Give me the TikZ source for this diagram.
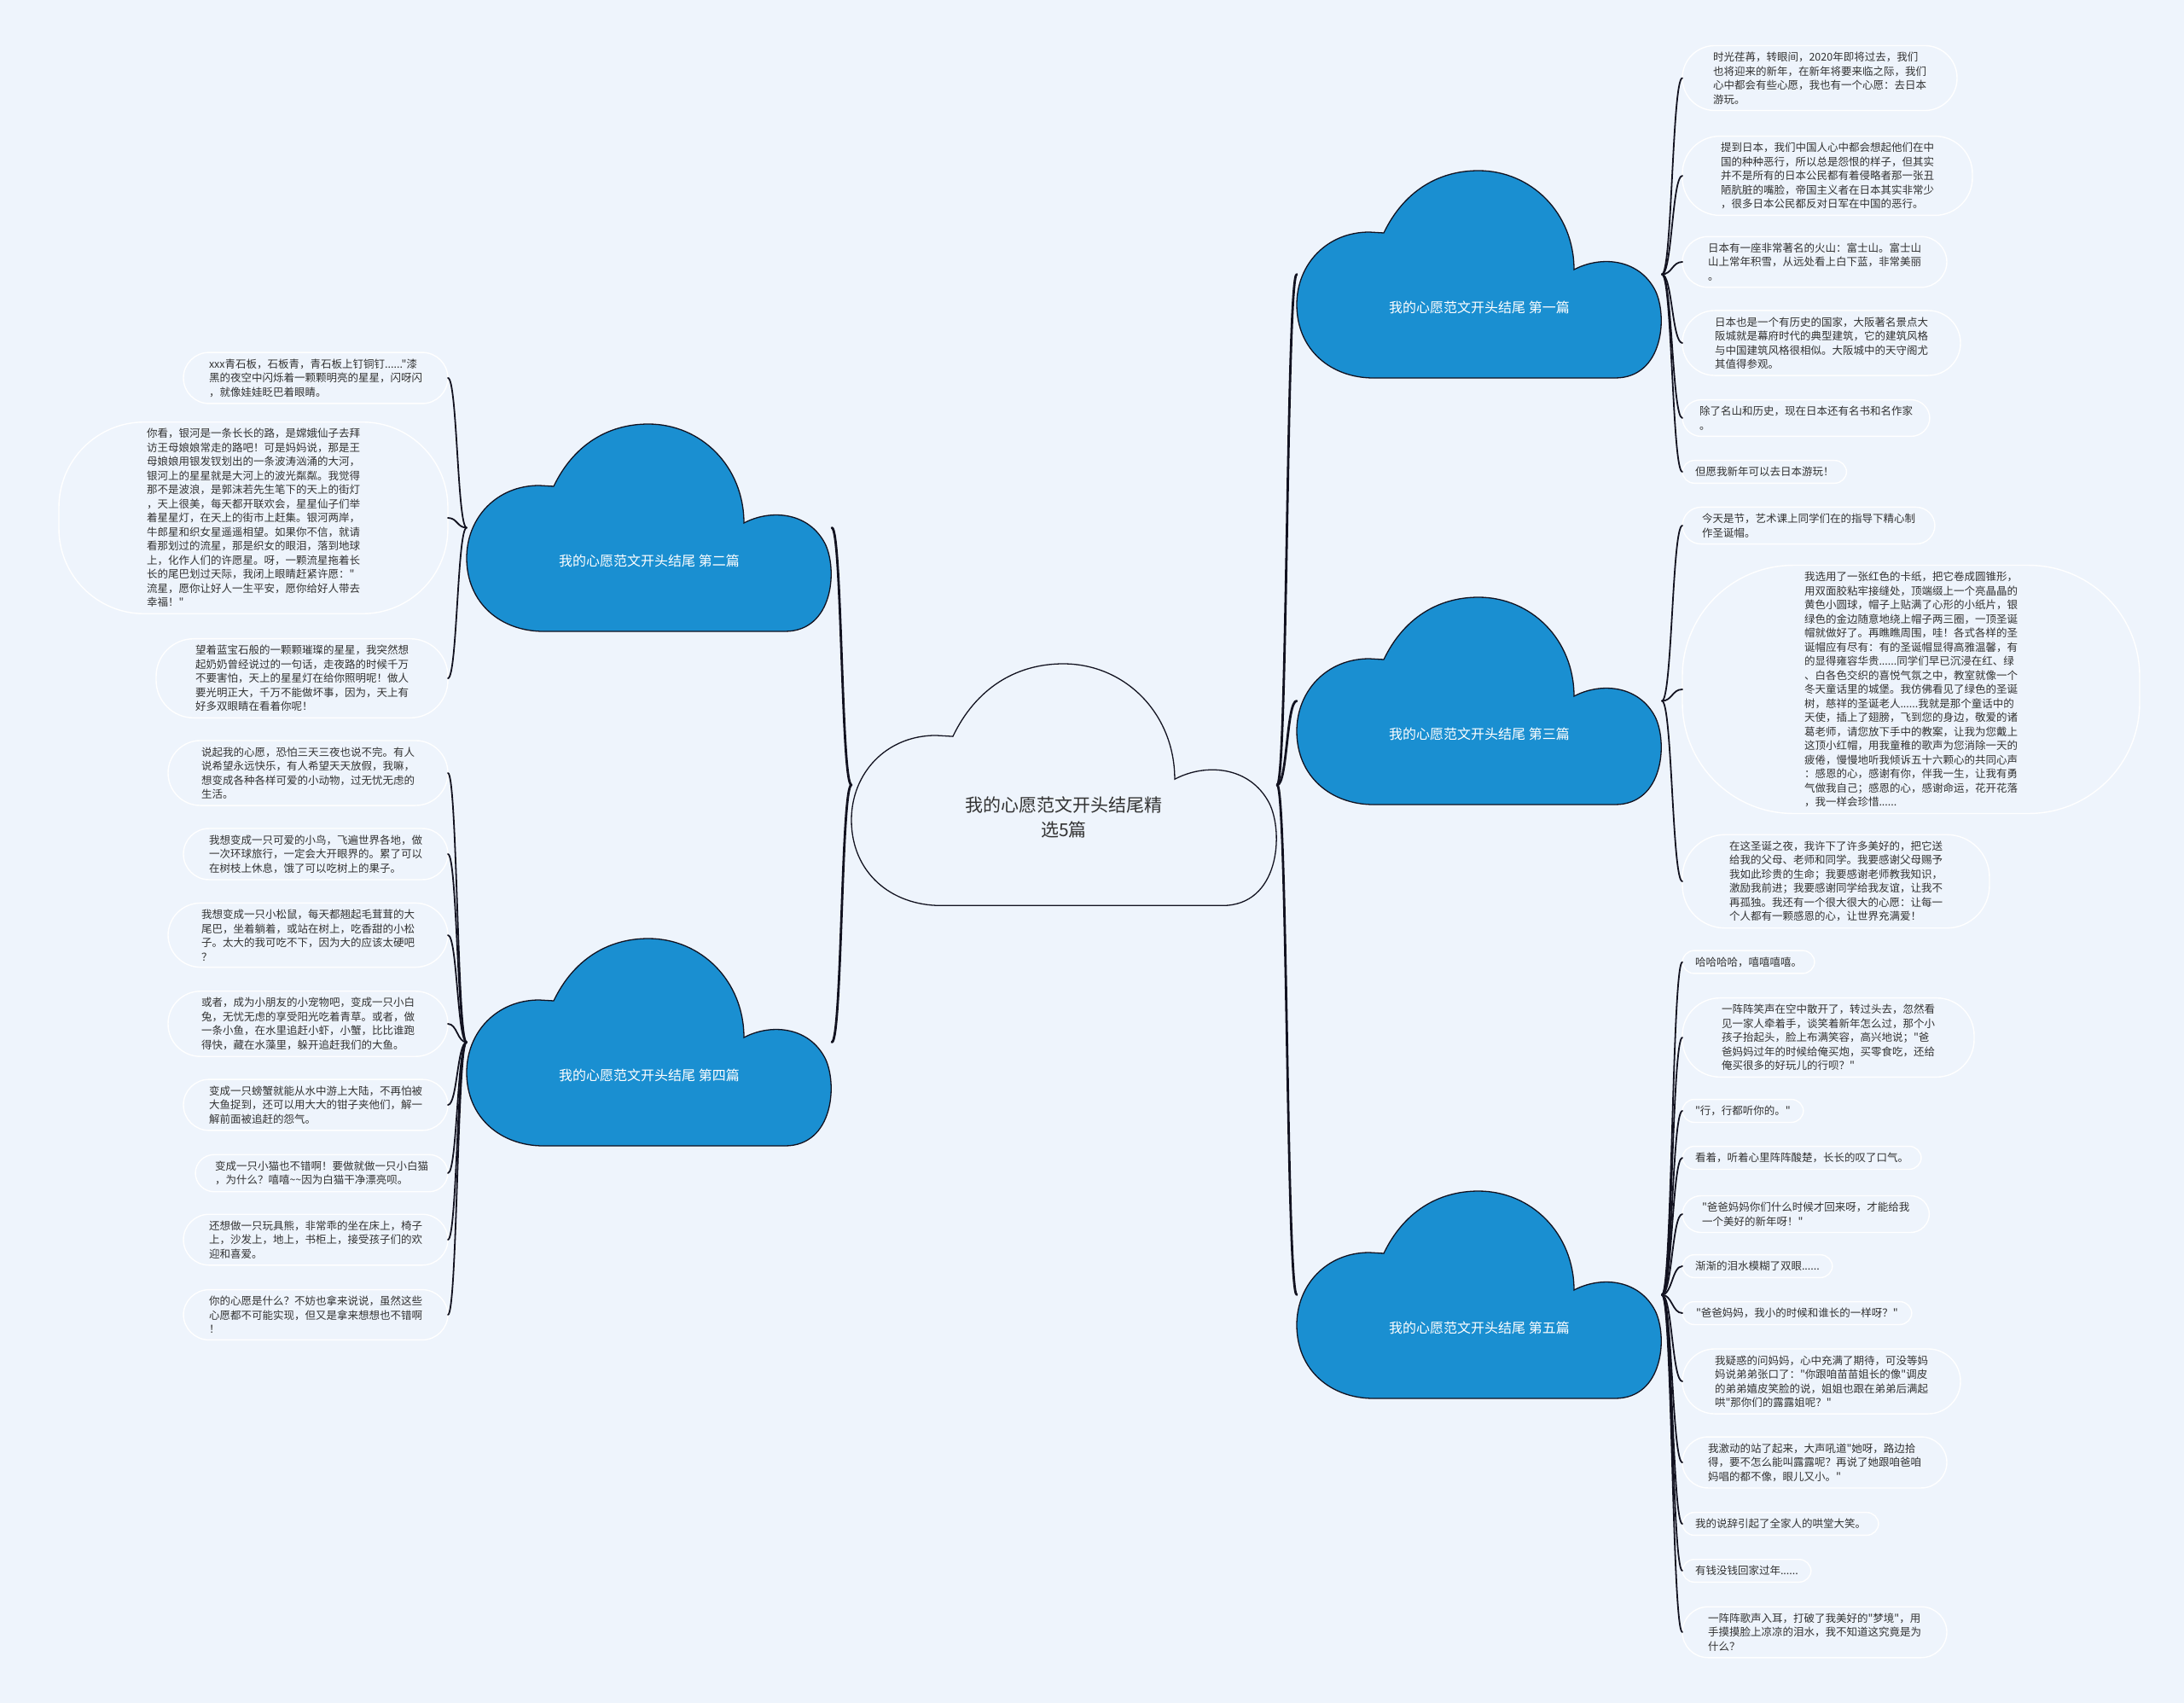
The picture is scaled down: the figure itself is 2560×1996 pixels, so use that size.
\documentclass[tikz,border=0pt]{standalone}
\usepackage{fontspec}
\newfontfamily\cjk{Noto Sans CJK SC}
\usetikzlibrary{calc}
\definecolor{bg}{RGB}{238,244,252}
\definecolor{cloudblue}{RGB}{26,143,209}
\definecolor{ink}{RGB}{18,18,32}
\definecolor{txt}{RGB}{50,50,50}
\tikzset{
  cloudpic/.pic={\path[pic actions] (102,73) .. controls (125,25) and (165,0) .. (213,0)
      .. controls (275,0) and (325,50) .. (325,116)
      .. controls (355,100) and (400,102) .. (420,140)
      .. controls (435,170) and (430,243) .. (373,243) -- (90,243)
      .. controls (40,243) and (0,210) .. (0,157)
      .. controls (0,110) and (35,72) .. (85,72) -- cycle;},
  bluecloud/.style={fill=cloudblue, draw=ink, line width=1.3pt},
  centercloud/.style={fill=bg, draw=ink, line width=1.3pt},
  cloudbox/.style={inner sep=0pt, outer sep=0pt, minimum width=428pt, minimum height=243pt},
  cloudtxt/.style={font=\cjk\fontsize{16}{20}\selectfont, text=white},
  centertxt/.style={font=\cjk\fontsize{21}{29}\selectfont, text=txt, align=center},
  leaf/.style={draw=white, line width=1.4pt, fill=bg, font=\cjk\fontsize{12.5}{16.5}\selectfont,
      text=txt, align=left, inner ysep=7.5pt, outer sep=0pt},
  mainlink/.style={draw=ink, line width=2.8pt, line cap=round},
  leaflink/.style={draw=ink, line width=1.8pt, line cap=round},
}
% right leaf: name, y, pad, radius, text
\newcommand\rleaf[5]{\node[leaf, anchor=west, inner xsep=#3pt, rounded corners=#4pt] (#1) at (1972,#2) {#5};}
% left leaf: name, y, pad, radius, text
\newcommand\lleaf[5]{\node[leaf, anchor=east, inner xsep=#3pt, rounded corners=#4pt] (#1) at (525,#2) {#5};}
\begin{document}
\begin{tikzpicture}[x=1pt, y=-1pt]
\useasboundingbox (0,0) rectangle (2560,1996);
\fill[bg] (0,0) rectangle (2560,1996);

% clouds
\pic[centercloud, scale=1.166] at (998,778) {cloudpic};
\node[cloudbox, minimum width=499pt, minimum height=284pt] (c0) at (1247.5,920) {};
\node[centertxt] (c0t) at (1247,958) {我的心愿范文开头结尾精\\选5篇};

\pic[bluecloud] at (1520,200) {cloudpic};
\node[cloudbox] (c1) at (1734,321.5) {};
\node[cloudtxt] (c1t) at (1734,360) {我的心愿范文开头结尾 第一篇};

\pic[bluecloud] at (547,497) {cloudpic};
\node[cloudbox] (c2) at (761,618.5) {};
\node[cloudtxt] (c2t) at (761,657) {我的心愿范文开头结尾 第二篇};

\pic[bluecloud] at (1520,700) {cloudpic};
\node[cloudbox] (c3) at (1734,821.5) {};
\node[cloudtxt] (c3t) at (1734,860) {我的心愿范文开头结尾 第三篇};

\pic[bluecloud] at (547,1100) {cloudpic};
\node[cloudbox] (c4) at (761,1221.5) {};
\node[cloudtxt] (c4t) at (761,1260) {我的心愿范文开头结尾 第四篇};

\pic[bluecloud] at (1520,1396) {cloudpic};
\node[cloudbox] (c5) at (1734,1517.5) {};
\node[cloudtxt] (c5t) at (1734,1556) {我的心愿范文开头结尾 第五篇};

% leaves of 第一篇
\rleaf{a1}{91.5}{36}{38}{时光荏苒，转眼间，2020年即将过去，我们\\也将迎来的新年，在新年将要来临之际，我们\\心中都会有些心愿，我也有一个心愿：去日本\\游玩。}
\rleaf{a2}{206}{45}{44}{提到日本，我们中国人心中都会想起他们在中\\国的种种恶行，所以总是怨恨的样子，但其实\\并不是所有的日本公民都有着侵略者那一张丑\\陋肮脏的嘴脸，帝国主义者在日本其实非常少\\，很多日本公民都反对日军在中国的恶行。}
\rleaf{a3}{307}{30}{30}{日本有一座非常著名的火山：富士山。富士山\\山上常年积雪，从远处看上白下蓝，非常美丽\\。}
\rleaf{a4}{402}{38}{38}{日本也是一个有历史的国家，大阪著名景点大\\阪城就是幕府时代的典型建筑，它的建筑风格\\与中国建筑风格很相似。大阪城中的天守阁尤\\其值得参观。}
\rleaf{a5}{490}{20}{22}{除了名山和历史，现在日本还有名书和名作家\\。}
\rleaf{a6}{553}{15}{14}{但愿我新年可以去日本游玩！}

% leaves of 第三篇
\rleaf{b1}{616}{23}{22}{今天是节，艺术课上同学们在的指导下精心制\\作圣诞帽。}
\rleaf{b2}{808}{143}{130}{我选用了一张红色的卡纸，把它卷成圆锥形，\\用双面胶粘牢接缝处，顶端缀上一个亮晶晶的\\黄色小圆球，帽子上贴满了心形的小纸片，银\\绿色的金边随意地绕上帽子两三圈，一顶圣诞\\帽就做好了。再瞧瞧周围，哇！各式各样的圣\\诞帽应有尽有：有的圣诞帽显得高雅温馨，有\\的显得雍容华贵......同学们早已沉浸在红、绿\\、白各色交织的喜悦气氛之中，教室就像一个\\冬天童话里的城堡。我仿佛看见了绿色的圣诞\\树，慈祥的圣诞老人......我就是那个童话中的\\天使，插上了翅膀，飞到您的身边，敬爱的诸\\葛老师，请您放下手中的教案，让我为您戴上\\这顶小红帽，用我童稚的歌声为您消除一天的\\疲倦，慢慢地听我倾诉五十六颗心的共同心声\\：感恩的心，感谢有你，伴我一生，让我有勇\\气做我自己；感恩的心，感谢命运，花开花落\\，我一样会珍惜......}
\rleaf{b3}{1033}{55}{50}{在这圣诞之夜，我许下了许多美好的，把它送\\给我的父母、老师和同学。我要感谢父母赐予\\我如此珍贵的生命；我要感谢老师教我知识，\\激励我前进；我要感谢同学给我友谊，让我不\\再孤独。我还有一个很大很大的心愿：让每一\\个人都有一颗感恩的心，让世界充满爱！}

% leaves of 第五篇
\rleaf{e1}{1127.5}{15}{14}{哈哈哈哈，嘻嘻嘻嘻。}
\rleaf{e2}{1216}{46}{44}{一阵阵笑声在空中散开了，转过头去，忽然看\\见一家人牵着手，谈笑着新年怎么过，那个小\\孩子抬起头，脸上布满笑容，高兴地说；"爸\\爸妈妈过年的时候给俺买炮，买零食吃，还给\\俺买很多的好玩儿的行呗？"}
\rleaf{e3}{1302}{15}{14}{"行，行都听你的。"}
\rleaf{e4}{1357}{15}{14}{看着，听着心里阵阵酸楚，长长的叹了口气。}
\rleaf{e5}{1423}{23}{22}{"爸爸妈妈你们什么时候才回来呀，才能给我\\一个美好的新年呀！"}
\rleaf{e6}{1484}{15}{14}{渐渐的泪水模糊了双眼......}
\rleaf{e7}{1539}{16}{14}{"爸爸妈妈，我小的时候和谁长的一样呀？"}
\rleaf{e8}{1619}{38}{38}{我疑惑的问妈妈，心中充满了期待，可没等妈\\妈说弟弟张口了："你跟咱苗苗姐长的像"调皮\\的弟弟嬉皮笑脸的说，姐姐也跟在弟弟后满起\\哄"那你们的露露姐呢？"}
\rleaf{e9}{1714}{30}{30}{我激动的站了起来，大声吼道"她呀，路边拾\\得，要不怎么能叫露露呢？再说了她跟咱爸咱\\妈唱的都不像，眼儿又小。"}
\rleaf{e10}{1786}{15}{14}{我的说辞引起了全家人的哄堂大笑。}
\rleaf{e11}{1841}{15}{14}{有钱没钱回家过年......}
\rleaf{e12}{1913}{30}{30}{一阵阵歌声入耳，打破了我美好的"梦境"，用\\手摸摸脸上凉凉的泪水，我不知道这究竟是为\\什么？}

% leaves of 第二篇
\lleaf{f1}{443}{30}{30}{xxx青石板，石板青，青石板上钉铜钉......"漆\\黑的夜空中闪烁着一颗颗明亮的星星，闪呀闪\\，就像娃娃眨巴着眼睛。}
\lleaf{f2}{607}{103}{100}{你看，银河是一条长长的路，是嫦娥仙子去拜\\访王母娘娘常走的路吧！可是妈妈说，那是王\\母娘娘用银发钗划出的一条波涛汹涌的大河，\\银河上的星星就是大河上的波光粼粼。我觉得\\那不是波浪，是郭沫若先生笔下的天上的街灯\\，天上很美，每天都开联欢会，星星仙子们举\\着星星灯，在天上的街市上赶集。银河两岸，\\牛郎星和织女星遥遥相望。如果你不信，就请\\看那划过的流星，那是织女的眼泪，落到地球\\上，化作人们的许愿星。呀，一颗流星拖着长\\长的尾巴划过天际，我闭上眼睛赶紧许愿："\\流星，愿你让好人一生平安，愿你给好人带去\\幸福！"}
\lleaf{f3}{795}{46}{44}{望着蓝宝石般的一颗颗璀璨的星星，我突然想\\起奶奶曾经说过的一句话，走夜路的时候千万\\不要害怕，天上的星星灯在给你照明呢！做人\\要光明正大，千万不能做坏事，因为，天上有\\好多双眼睛在看着你呢！}

% leaves of 第四篇
\lleaf{g1}{906}{39}{38}{说起我的心愿，恐怕三天三夜也说不完。有人\\说希望永远快乐，有人希望天天放假，我嘛，\\想变成各种各样可爱的小动物，过无忧无虑的\\生活。}
\lleaf{g2}{1001}{30}{30}{我想变成一只可爱的小鸟，飞遍世界各地，做\\一次环球旅行，一定会大开眼界的。累了可以\\在树枝上休息，饿了可以吃树上的果子。}
\lleaf{g3}{1096}{39}{38}{我想变成一只小松鼠，每天都翘起毛茸茸的大\\尾巴，坐着躺着，或站在树上，吃香甜的小松\\子。太大的我可吃不下，因为大的应该太硬吧\\？}
\lleaf{g4}{1200}{39}{38}{或者，成为小朋友的小宠物吧，变成一只小白\\兔，无忧无虑的享受阳光吃着青草。或者，做\\一条小鱼，在水里追赶小虾，小蟹，比比谁跑\\得快，藏在水藻里，躲开追赶我们的大鱼。}
\lleaf{g5}{1295}{30}{30}{变成一只螃蟹就能从水中游上大陆，不再怕被\\大鱼捉到，还可以用大大的钳子夹他们，解一\\解前面被追赶的怨气。}
\lleaf{g6}{1375}{23}{22}{变成一只小猫也不错啊！要做就做一只小白猫\\，为什么？嘻嘻\textasciitilde\textasciitilde 因为白猫干净漂亮呗。}
\lleaf{g7}{1453}{30}{30}{还想做一只玩具熊，非常乖的坐在床上，椅子\\上，沙发上，地上，书柜上，接受孩子们的欢\\迎和喜爱。}
\lleaf{g8}{1541}{30}{30}{你的心愿是什么？不妨也拿来说说，虽然这些\\心愿都不可能实现，但又是拿来想想也不错啊\\！}

% main connectors
\foreach \t in {c1,c3,c5}
  \draw[mainlink] (c0.east) .. controls +(12,0) and +(-12,0) .. (\t.west);
\foreach \t in {c2,c4}
  \draw[mainlink] (c0.west) .. controls +(-12,0) and +(12,0) .. (\t.east);

% leaf connectors
\foreach \t in {a1,a2,a3,a4,a5,a6}
  \draw[leaflink] (c1.east) .. controls +(12,0) and +(-12,0) .. (\t.west);
\foreach \t in {b1,b2,b3}
  \draw[leaflink] (c3.east) .. controls +(12,0) and +(-12,0) .. (\t.west);
\foreach \t in {e1,e2,e3,e4,e5,e6,e7,e8,e9,e10,e11,e12}
  \draw[leaflink] (c5.east) .. controls +(12,0) and +(-12,0) .. (\t.west);
\foreach \t in {f1,f2,f3}
  \draw[leaflink] (c2.west) .. controls +(-11,0) and +(11,0) .. (\t.east);
\foreach \t in {g1,g2,g3,g4,g5,g6,g7,g8}
  \draw[leaflink] (c4.west) .. controls +(-11,0) and +(11,0) .. (\t.east);
\end{tikzpicture}
\end{document}
